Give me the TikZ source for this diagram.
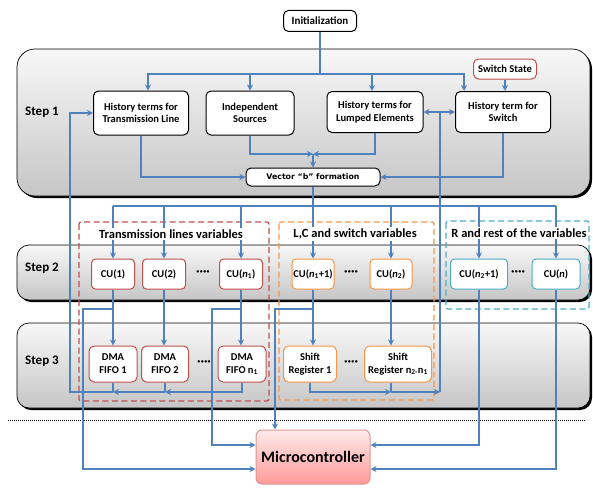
\documentclass[tikz,border=0pt]{standalone}
\usepackage{fontspec}
\setmainfont{Carlito}
\newfontfamily\vfont{DejaVu Sans}
\usetikzlibrary{arrows.meta}
\definecolor{arrowblue}{HTML}{4F81BD}
\definecolor{cured}{HTML}{C0504D}
\definecolor{cuorange}{HTML}{F79646}
\definecolor{cuteal}{HTML}{4BACC6}
\definecolor{mcborder}{HTML}{D99694}
\begin{document}
\begin{tikzpicture}[x=1pt,y=-1pt,
  box/.style={draw=black, line width=1pt, fill=white, rounded corners=5pt, align=center, inner sep=0pt, font=\bfseries\fontsize{10.5}{12.5}\selectfont},
  cubox/.style={draw=#1, line width=1pt, fill=white, rounded corners=4pt, minimum height=30pt, align=center, inner sep=0pt, font=\bfseries\fontsize{10.5}{12}\selectfont},
  fbox/.style={draw=#1, line width=1pt, fill=white, rounded corners=5pt, minimum height=36pt, align=center, inner sep=0pt, font=\bfseries\fontsize{10.5}{13}\selectfont},
  arr/.style={draw=arrowblue, line width=1.3pt, -{Stealth[length=6pt,width=6pt]}},
  ln/.style={draw=arrowblue, line width=1.3pt},
  steplabel/.style={font=\bfseries\fontsize{13}{15}\selectfont},
  grouplabel/.style={font=\bfseries\fontsize{12.5}{14}\selectfont, fill=white, inner sep=1.5pt},
  dotsnode/.style={font=\bfseries\fontsize{13}{14}\selectfont, inner sep=0pt},
  grp/.style={draw=#1, line width=1.3pt, dash pattern=on 6pt off 3.5pt, rounded corners=2pt}
]
\useasboundingbox (0,0) rectangle (593,487);

% panels
\fill[black, rounded corners=18pt] (19,51) rectangle (592,198);
\shade[top color=gray!6, bottom color=gray!45, draw=black, line width=0.7pt, rounded corners=18pt] (17,49) rectangle (590,196);
\fill[black, rounded corners=12pt] (19,247) rectangle (592,302);
\shade[top color=gray!6, bottom color=gray!45, draw=black, line width=0.7pt, rounded corners=12pt] (17,245) rectangle (590,300);
\fill[black, rounded corners=12pt] (19,325) rectangle (592,410);
\shade[top color=gray!6, bottom color=gray!45, draw=black, line width=0.7pt, rounded corners=12pt] (17,323) rectangle (590,408);

\node[steplabel] (s1lab) at (42,112) {Step 1};
\node[steplabel] (s2lab) at (42,268) {Step 2};
\node[steplabel] (s3lab) at (42,361) {Step 3};

% dashed groups
\draw[grp=cured] (79,222) rectangle (269,401);
\draw[grp=cuorange] (279,222) rectangle (434,400);
\draw[grp=cuteal] (446,221) rectangle (589,309);

% dotted separator
\draw[line width=1pt, dash pattern=on 1pt off 1pt] (8,420) -- (585,420);

% nodes
\node[box, minimum width=73pt, minimum height=21pt, font=\bfseries\fontsize{11}{13}\selectfont] (init) at (320,21) {Initialization};
\node[box, minimum width=95pt, minimum height=44pt] (tl) at (141,113) {History terms for\\Transmission Line};
\node[box, minimum width=88pt, minimum height=44pt] (is) at (250,113) {Independent\\Sources};
\node[box, minimum width=96pt, minimum height=41pt] (le) at (375,112) {History terms for\\Lumped Elements};
\node[box, minimum width=95pt, minimum height=41pt] (sw) at (503,112) {History term for\\Switch};
\node[box, draw=cured, minimum width=63pt, minimum height=20pt, font=\bfseries\fontsize{10.5}{12}\selectfont] (ss) at (505,69) {Switch State};
\node[box, minimum width=134pt, minimum height=18pt, font=\vfont\bfseries\fontsize{7.8}{9}\selectfont] (vb) at (313,177) {Vector “b” formation};

\node[cubox=cured, minimum width=43pt] (cu1) at (113,274) {CU(1)};
\node[cubox=cured, minimum width=43pt] (cu2) at (164,274) {CU(2)};
\node[dotsnode] (d1) at (203,273) {····};
\node[cubox=cured, minimum width=43pt] (cun1) at (241,274) {CU(\textit{n}\textsubscript{1})};
\node[cubox=cuorange, minimum width=42pt] (cuA) at (313,274) {CU(\textit{n}\textsubscript{1}+1)};
\node[dotsnode] (d2) at (351,273) {····};
\node[cubox=cuorange, minimum width=42pt] (cuB) at (391,274) {CU(\textit{n}\textsubscript{2})};
\node[cubox=cuteal, minimum width=57pt] (cuC) at (479,274) {CU(\textit{n}\textsubscript{2}+1)};
\node[dotsnode] (d3) at (518,273) {····};
\node[cubox=cuteal, minimum width=48pt] (cuN) at (556,274) {CU(\textit{n})};

\node[fbox=cured, minimum width=48pt] (f1) at (113,364) {DMA\\FIFO 1};
\node[fbox=cured, minimum width=47pt] (f2) at (165,364) {DMA\\FIFO 2};
\node[dotsnode] (d4) at (204,363) {····};
\node[fbox=cured, minimum width=48pt] (fn) at (242,364) {DMA\\FIFO n\textsubscript{1}};
\node[fbox=cuorange, minimum width=53pt] (sr1) at (310,364) {Shift\\Register 1};
\node[dotsnode] (d5) at (351,363) {····};
\node[fbox=cuorange, minimum width=67pt] (srn) at (398,364) {Shift\\Register n\textsubscript{2-}n\textsubscript{1}};

\node[draw=mcborder, line width=1pt, top color=red!8, bottom color=red!40, rounded corners=6pt, minimum width=114pt, minimum height=54pt, inner sep=0pt, font=\bfseries\fontsize{16}{18}\selectfont] (mc) at (313,457) {Microcontroller};

% connectors step 1
\coordinate (j0) at (320,74);
\draw[ln] (init.south) -- (j0);
\draw[arr] (j0) -| ([xshift=7pt]tl.north);
\draw[arr] (j0) -| (is.north);
\draw[arr] (j0) -| ([xshift=-3pt]le.north);
\draw[arr] (j0) -| ([xshift=-39pt]sw.north);
\draw[arr] (ss.south) -- (ss.south |- sw.north);
\draw[arr] (tl.south) |- (vb.west);
\draw[arr] (sw.south) |- (vb.east);
\coordinate (vm) at (313,154);
\draw[arr] (is.south) |- (vm);
\draw[arr] (le.south) |- (vm);
\draw[arr, line width=2pt] (vm) -- (vb.north);

% bus to CUs
\coordinate (bus) at (313,206);
\draw[ln] (vb.south) -- (bus);
\draw[ln] (cu1.north |- bus) -- (cuN.north |- bus);
\foreach \n in {cu1,cu2,cun1,cuA,cuB,cuC,cuN}
  \draw[arr] (\n.north |- bus) -- (\n.north);

% CU to step 3
\draw[arr] (cu1.south) -- (cu1.south |- f1.north);
\draw[arr] (cu2.south) -- (cu2.south |- f2.north);
\draw[arr] (cun1.south) -- (cun1.south |- fn.north);
\draw[arr] (cuA.south) -- (cuA.south |- sr1.north);
\draw[arr] (cuB.south) -- (cuB.south |- srn.north);

% branches to microcontroller
\coordinate (b1) at (83,309);
\coordinate (b2) at (212,309);
\coordinate (b3) at (275,309);
\draw[arr] (cu1.south |- b1) -- (b1) |- (mc.west |- 0,469);
\draw[arr] (cun1.south |- b2) -- (b2) |- (mc.west |- 0,445);
\draw[arr] (cuA.south |- b3) -- (b3) -- (b3 |- mc.north);
\draw[arr] (cuC.south) |- (mc.east |- 0,445);
\draw[arr] (cuN.south) |- (mc.east |- 0,469);

% FIFO feedback
\coordinate (fb) at (70,392);
\draw[ln] (f1.south) -- (f1.south |- fb);
\draw[ln] (f2.south) -- (f2.south |- fb);
\draw[arr] (fn.south) |- (f2.south |- fb);
\draw[arr] (f2.south |- fb) -- (f1.south |- fb);
\draw[arr] (f1.south |- fb) -- (fb) |- (tl.west);

% shift register feedback
\coordinate (sb) at (440,392);
\draw[ln] (cuB.south |- srn.south) -- (cuB.south |- sb);
\draw[arr] (sr1.south) |- (cuB.south |- sb);
\draw[arr] (cuB.south |- sb) -- (sb);
\draw[ln] (sb) -- (sb |- le.east);
\draw[arr, {Stealth[length=6pt,width=6pt]}-{Stealth[length=6pt,width=6pt]}] (le.east) -- (sw.west);

% group labels (on top of connectors)
\node[grouplabel] (g1) at (171,234) {Transmission\ lines variables};
\node[grouplabel] (g2) at (355,234) {L,C and switch variables};
\node[grouplabel] (g3) at (519,233) {R and rest of the variables};
\end{tikzpicture}
\end{document}
